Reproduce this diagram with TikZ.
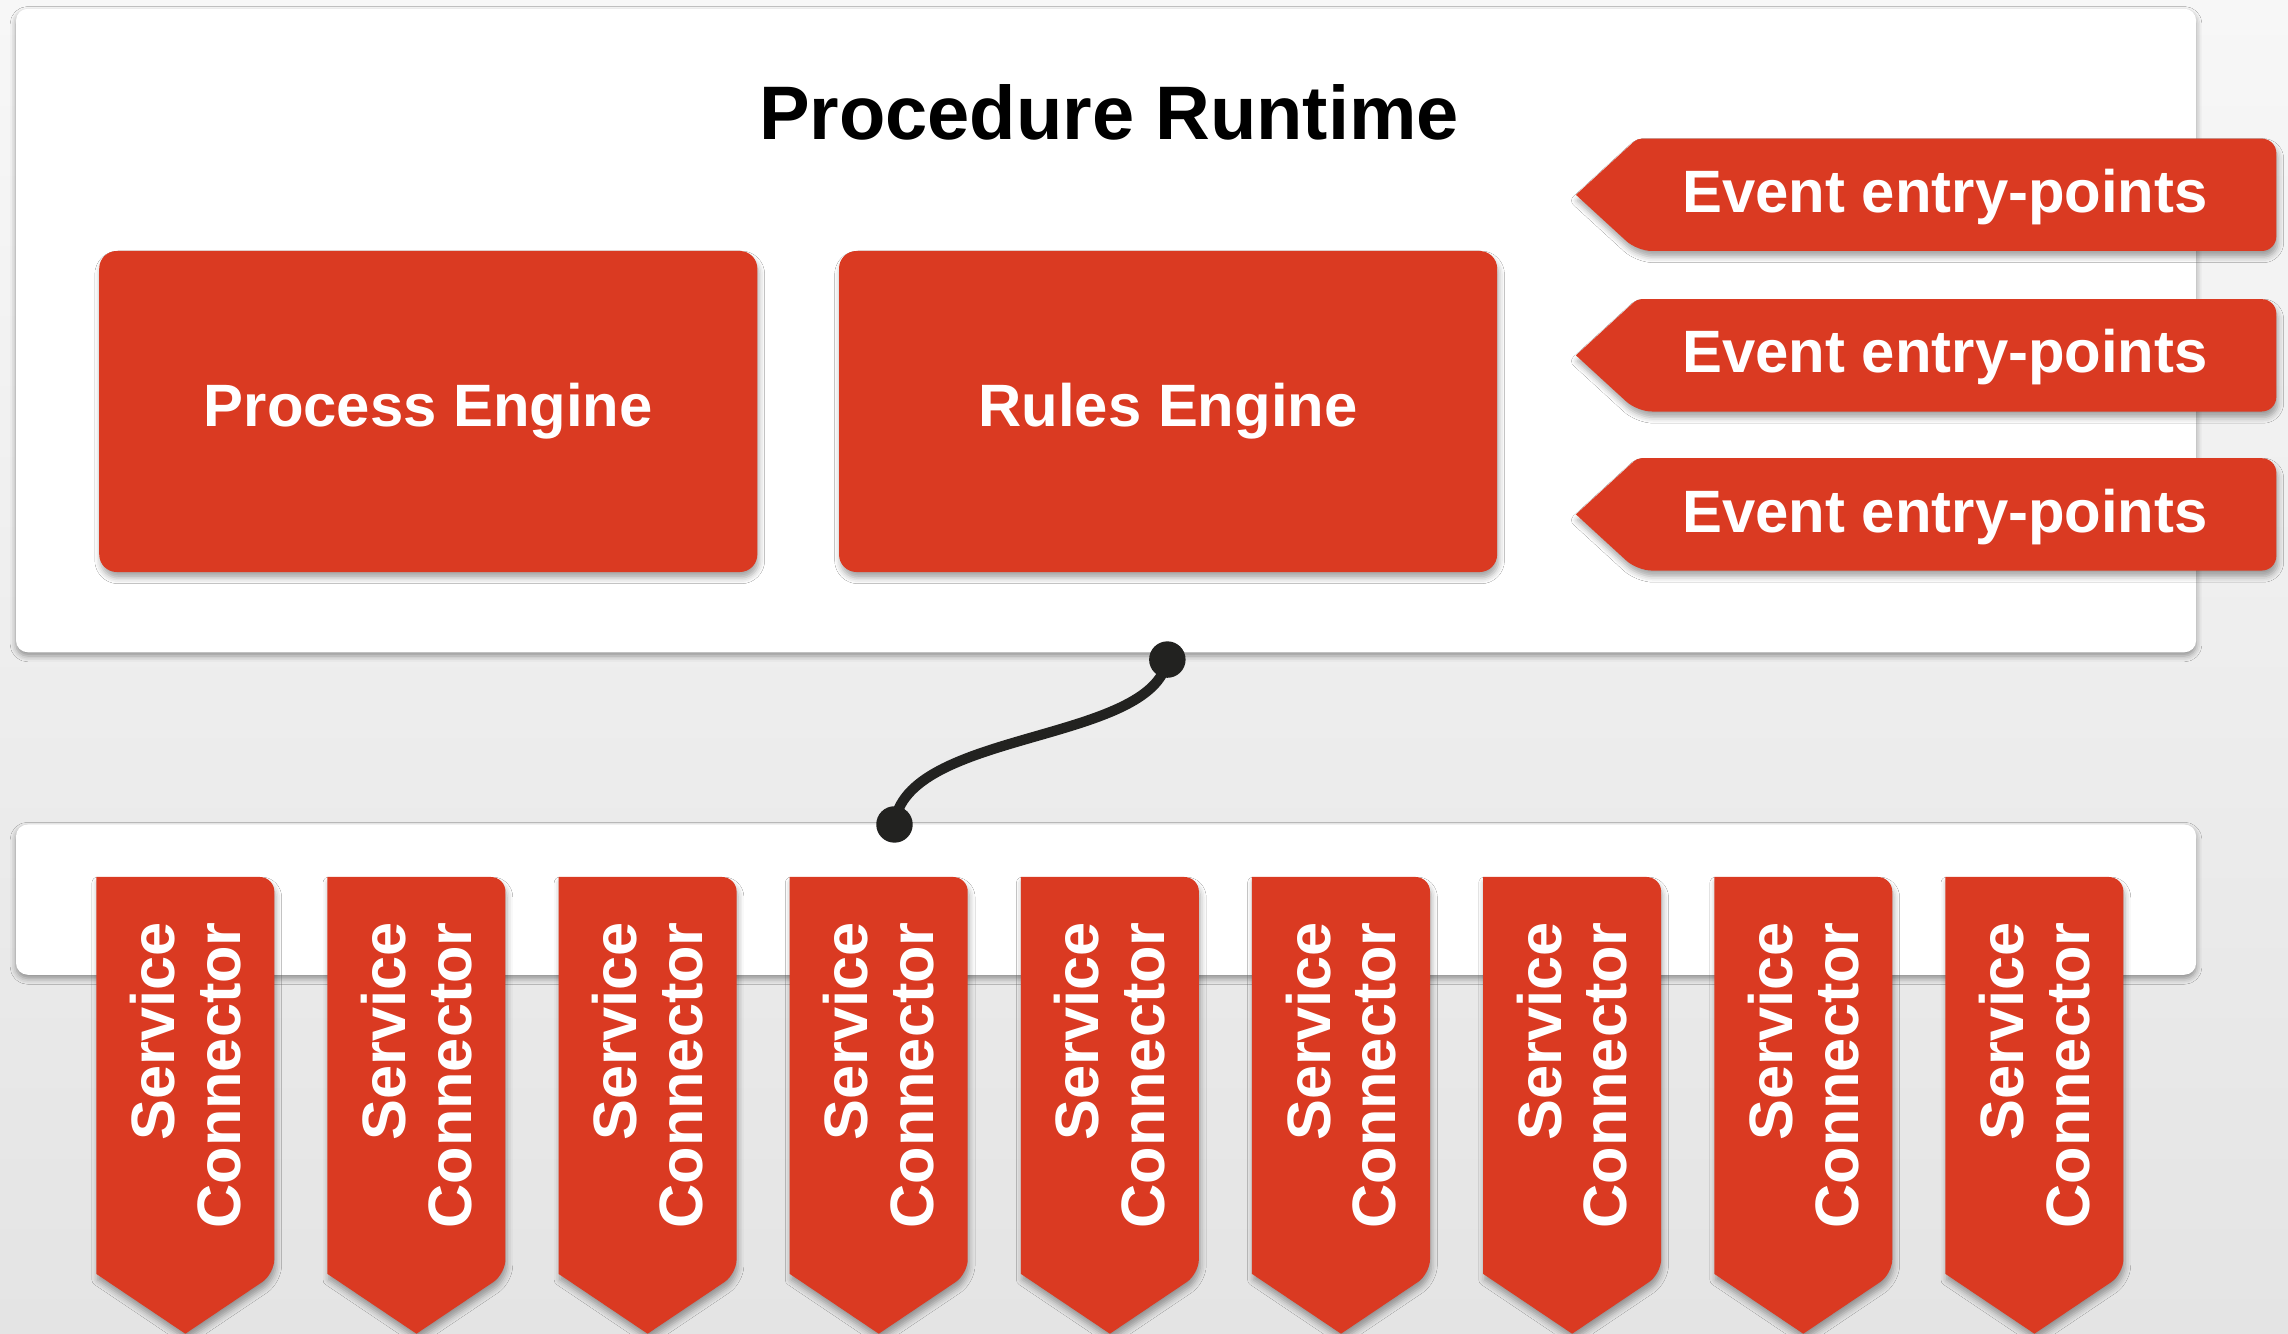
\documentclass[tikz,border=0pt]{standalone}
\usepackage{fontspec}
\setmainfont{Liberation Sans}
\usetikzlibrary{shadows.blur}
\definecolor{rbox}{RGB}{218,58,34}
\definecolor{bgtop}{RGB}{247,247,247}
\definecolor{bgbot}{RGB}{228,228,228}
\definecolor{wire}{RGB}{34,34,32}
\tikzset{
  panelshadow/.style={blur shadow={shadow xshift=0pt, shadow yshift=-2.5pt, shadow blur radius=4pt, shadow opacity=40}},
  redshadow/.style={blur shadow={shadow xshift=1pt, shadow yshift=-4pt, shadow blur radius=4pt, shadow opacity=35}},
  panel/.style={fill=white, rounded corners=8pt, panelshadow},
  engine/.style={fill=rbox, rounded corners=12pt, minimum width=451pt, minimum height=220pt, redshadow,
    text=white, font=\fontsize{41}{46}\selectfont\bfseries},
  evfill/.style={fill=rbox, redshadow},
  evtext/.style={text=white, font=\fontsize{41}{46}\selectfont\bfseries, inner sep=0pt},
  tabtext/.style={text=white, font=\fontsize{42}{45}\selectfont\bfseries, rotate=90, align=right, inner sep=0pt},
  titletext/.style={text=black, font=\fontsize{52}{58}\selectfont\bfseries},
  dotstyle/.style={circle, fill=wire, minimum size=25pt, inner sep=0pt},
  wirestyle/.style={draw=wire, line width=7pt, line cap=round}
}
\begin{document}
\begin{tikzpicture}[x=1pt,y=-1pt]
\useasboundingbox (0,0) rectangle (1568,914);
\shade[top color=bgtop, bottom color=bgbot] (0,0) rectangle (1568,914);

% panels
\path[panel] (11,6) rectangle (1505,447);
\path[panel] (11,565) rectangle (1505,668);

% title
\node[titletext] (title) at (760,77) {Procedure Runtime};

% engines
\node[engine] (pe) at (293.5,282) {Process Engine};
\node[engine] (re) at (800.5,282) {Rules Engine};

% event entry points
\foreach \t/\n in {95/ev1, 205/ev2, 314/ev3} {
  \path[evfill] (1300,\t) [rounded corners=10pt] -- (1560,\t) -- (1560,\t+77) -- (1122,\t+77)
    [sharp corners] -- (1080,\t+38.5) [rounded corners=3pt] -- (1122,\t) [sharp corners] -- cycle;
  \node[evtext] (\n) at (1333,\t+40) {Event entry-points};
}

% service connectors
\foreach \i in {0,...,8} {
  \pgfmathsetmacro{\L}{66+\i*158.4}
  \path[evfill] (\L+61,601) [rounded corners=10pt] -- (\L+122,601) -- (\L+122,873)
    [sharp corners] -- (\L+61,914) -- (\L,873) -- (\L,601) [rounded corners=10pt] -- cycle;
  \node[tabtext] (sc\i) at (\L+61,737) {Service\\Connector};
}

% connector wire
\node[dotstyle] (dtop) at (800,452) {};
\node[dotstyle] (dbot) at (613,565) {};
\draw[wirestyle] (dtop.center) .. controls (790,510) and (620,500) .. (dbot.center);
\end{tikzpicture}
\end{document}
